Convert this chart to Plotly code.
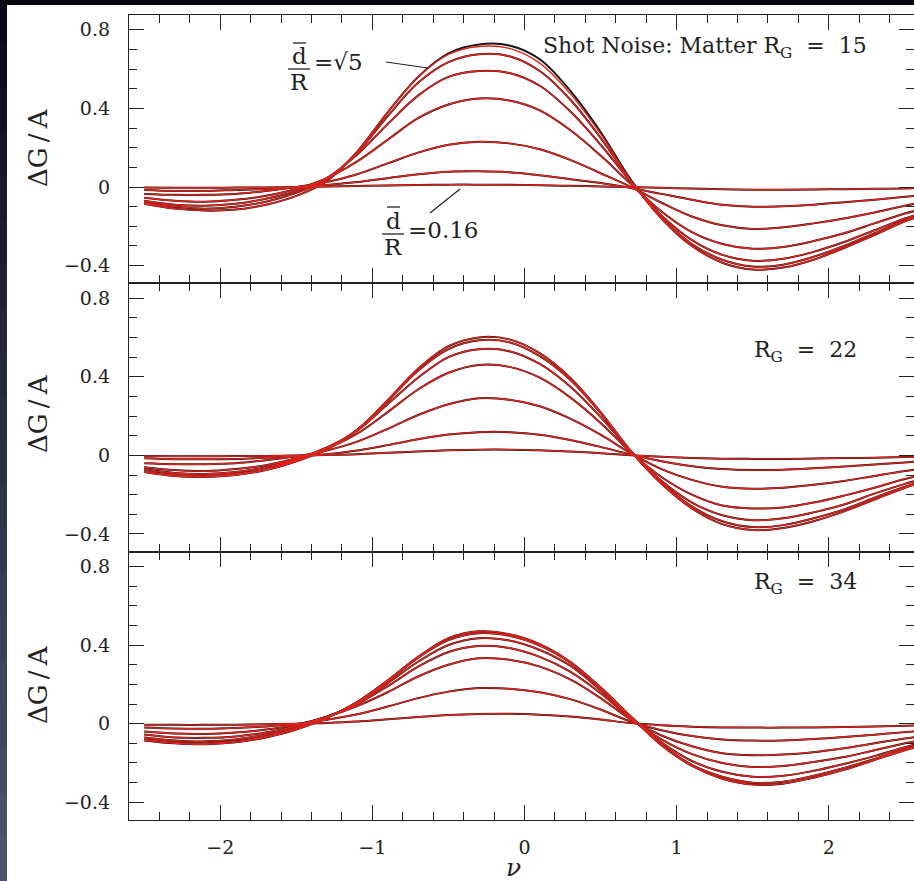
import plotly.graph_objects as go
from plotly.subplots import make_subplots

# ---------------- data ----------------
nu = [-2.5, -2.3, -2.1, -1.9, -1.7, -1.5, -1.3, -1.1, -0.9, -0.7, -0.5, -0.3, -0.1,
      0.1, 0.3, 0.5, 0.7, 0.9, 1.1, 1.3, 1.5, 1.7, 1.9, 2.1, 2.3, 2.5, 2.6]

# Panel 1: R_G = 15 (d/R from sqrt(5) down to 0.16) -- red (measured) curves
p1_c1 = [-0.085, -0.11, -0.12, -0.115, -0.09, -0.045, 0.03, 0.18, 0.38, 0.56, 0.675, 0.715, 0.705,
         0.63, 0.475, 0.27, 0.03, -0.16, -0.30, -0.385, -0.42, -0.41, -0.37, -0.31, -0.245, -0.175, -0.15]
p1_c2 = [-0.08, -0.10, -0.11, -0.10, -0.075, -0.03, 0.04, 0.175, 0.36, 0.53, 0.635, 0.675, 0.665,
         0.59, 0.445, 0.25, 0.03, -0.155, -0.29, -0.37, -0.405, -0.395, -0.355, -0.30, -0.235, -0.17, -0.145]
p1_c3 = [-0.07, -0.09, -0.095, -0.085, -0.06, -0.02, 0.045, 0.165, 0.32, 0.465, 0.56, 0.59, 0.58,
         0.515, 0.385, 0.215, 0.025, -0.145, -0.27, -0.345, -0.375, -0.365, -0.33, -0.28, -0.22, -0.16, -0.135]
p1_c4 = [-0.055, -0.07, -0.075, -0.065, -0.045, -0.01, 0.045, 0.13, 0.24, 0.35, 0.42, 0.45, 0.44,
         0.39, 0.29, 0.16, 0.015, -0.125, -0.23, -0.29, -0.314, -0.305, -0.275, -0.235, -0.185, -0.135, -0.115]
p1_c5 = [-0.035, -0.04, -0.04, -0.035, -0.02, 0.0, 0.025, 0.065, 0.12, 0.175, 0.215, 0.23, 0.222,
         0.192, 0.138, 0.07, 0.0, -0.08, -0.15, -0.195, -0.213, -0.205, -0.185, -0.16, -0.13, -0.095, -0.08]
p1_c6 = [-0.015, -0.02, -0.02, -0.015, -0.01, 0.0, 0.01, 0.025, 0.045, 0.065, 0.078, 0.08, 0.075,
         0.06, 0.04, 0.02, -0.005, -0.035, -0.065, -0.09, -0.10, -0.098, -0.09, -0.078, -0.065, -0.05, -0.042]
p1_c7 = [-0.003, -0.004, -0.004, -0.003, -0.002, 0.0, 0.002, 0.005, 0.008, 0.01, 0.012, 0.012, 0.011,
         0.009, 0.006, 0.003, 0.0, -0.004, -0.008, -0.012, -0.014, -0.014, -0.013, -0.011, -0.009, -0.007, -0.006]
# black (prediction) top curve of panel 1, visibly above the red one near the peak
p1_k1 = [-0.085, -0.11, -0.12, -0.115, -0.09, -0.045, 0.03, 0.18, 0.38, 0.56, 0.68, 0.725, 0.72,
         0.65, 0.49, 0.28, 0.035, -0.16, -0.30, -0.385, -0.42, -0.41, -0.37, -0.31, -0.245, -0.175, -0.15]

# Panel 2: R_G = 22
p2_c1 = [-0.085, -0.105, -0.11, -0.10, -0.075, -0.03, 0.03, 0.13, 0.28, 0.44, 0.555, 0.60, 0.59,
         0.52, 0.395, 0.22, 0.02, -0.145, -0.27, -0.35, -0.38, -0.37, -0.335, -0.285, -0.225, -0.165, -0.14]
p2_c2 = [-0.08, -0.10, -0.105, -0.095, -0.07, -0.025, 0.035, 0.13, 0.275, 0.43, 0.54, 0.585, 0.575,
         0.505, 0.385, 0.215, 0.02, -0.14, -0.26, -0.335, -0.365, -0.355, -0.32, -0.275, -0.215, -0.16, -0.135]
p2_c3 = [-0.07, -0.09, -0.095, -0.085, -0.06, -0.02, 0.04, 0.125, 0.26, 0.395, 0.50, 0.54, 0.53,
         0.465, 0.35, 0.195, 0.02, -0.13, -0.24, -0.305, -0.33, -0.32, -0.29, -0.25, -0.195, -0.145, -0.125]
p2_c4 = [-0.06, -0.075, -0.08, -0.07, -0.05, -0.015, 0.035, 0.11, 0.22, 0.335, 0.42, 0.46, 0.45,
         0.395, 0.295, 0.165, 0.015, -0.11, -0.20, -0.255, -0.27, -0.265, -0.24, -0.205, -0.165, -0.12, -0.105]
p2_c5 = [-0.04, -0.045, -0.045, -0.04, -0.025, -0.005, 0.025, 0.07, 0.135, 0.205, 0.26, 0.29, 0.283,
         0.25, 0.187, 0.105, 0.01, -0.07, -0.125, -0.16, -0.17, -0.165, -0.15, -0.13, -0.105, -0.08, -0.07]
p2_c6 = [-0.015, -0.02, -0.02, -0.018, -0.012, -0.004, 0.006, 0.025, 0.052, 0.082, 0.106, 0.118, 0.118,
         0.105, 0.078, 0.043, 0.004, -0.03, -0.055, -0.07, -0.075, -0.073, -0.066, -0.057, -0.047, -0.036, -0.031]
p2_c7 = [-0.004, -0.005, -0.005, -0.004, -0.003, -0.001, 0.002, 0.006, 0.013, 0.02, 0.026, 0.029, 0.029,
         0.026, 0.019, 0.011, 0.001, -0.007, -0.013, -0.017, -0.018, -0.018, -0.016, -0.014, -0.012, -0.009, -0.008]

# Panel 3: R_G = 34
p3_c1 = [-0.085, -0.10, -0.105, -0.095, -0.07, -0.03, 0.03, 0.11, 0.22, 0.34, 0.435, 0.47, 0.455,
         0.405, 0.315, 0.185, 0.035, -0.11, -0.215, -0.28, -0.31, -0.305, -0.275, -0.235, -0.185, -0.135, -0.115]
p3_c2 = [-0.08, -0.095, -0.10, -0.09, -0.065, -0.025, 0.03, 0.11, 0.215, 0.335, 0.425, 0.46, 0.447,
         0.397, 0.31, 0.18, 0.035, -0.105, -0.21, -0.27, -0.30, -0.295, -0.265, -0.225, -0.18, -0.13, -0.11]
p3_c3 = [-0.07, -0.085, -0.09, -0.08, -0.055, -0.02, 0.035, 0.105, 0.205, 0.315, 0.40, 0.435, 0.423,
         0.375, 0.295, 0.17, 0.03, -0.095, -0.19, -0.245, -0.27, -0.265, -0.24, -0.205, -0.165, -0.12, -0.10]
p3_c4 = [-0.055, -0.07, -0.072, -0.065, -0.045, -0.012, 0.035, 0.10, 0.19, 0.29, 0.365, 0.395, 0.385,
         0.34, 0.265, 0.155, 0.025, -0.08, -0.155, -0.20, -0.22, -0.215, -0.195, -0.17, -0.135, -0.10, -0.085]
p3_c5 = [-0.04, -0.05, -0.052, -0.045, -0.03, -0.005, 0.035, 0.09, 0.16, 0.24, 0.30, 0.333, 0.325,
         0.29, 0.225, 0.13, 0.02, -0.06, -0.115, -0.15, -0.16, -0.157, -0.145, -0.125, -0.10, -0.075, -0.065]
p3_c6 = [-0.02, -0.025, -0.026, -0.022, -0.014, -0.002, 0.02, 0.048, 0.087, 0.13, 0.163, 0.181, 0.178,
         0.16, 0.125, 0.072, 0.01, -0.033, -0.063, -0.08, -0.086, -0.085, -0.078, -0.068, -0.056, -0.043, -0.037]
p3_c7 = [-0.005, -0.006, -0.006, -0.005, -0.003, 0.0, 0.004, 0.011, 0.022, 0.034, 0.044, 0.049, 0.05,
         0.046, 0.036, 0.021, 0.003, -0.008, -0.015, -0.019, -0.02, -0.02, -0.019, -0.017, -0.014, -0.011, -0.009]

red_panels = [
    [p1_c1, p1_c2, p1_c3, p1_c4, p1_c5, p1_c6, p1_c7],
    [p2_c1, p2_c2, p2_c3, p2_c4, p2_c5, p2_c6, p2_c7],
    [p3_c1, p3_c2, p3_c3, p3_c4, p3_c5, p3_c6, p3_c7],
]
black_panels = [
    [p1_k1, p1_c2, p1_c3, p1_c4, p1_c5, p1_c6, p1_c7],
    [p2_c1, p2_c2, p2_c3, p2_c4, p2_c5, p2_c6, p2_c7],
    [p3_c1, p3_c2, p3_c3, p3_c4, p3_c5, p3_c6, p3_c7],
]
NB = "\u00a0"
panel_labels = ["Shot Noise: Matter R<sub>G</sub>" + NB * 2 + "=" + NB * 2 + "15",
                "R<sub>G</sub>" + NB * 2 + "=" + NB * 2 + "22",
                "R<sub>G</sub>" + NB * 2 + "=" + NB * 2 + "34"]
x_ticks = [-2, -1, 0, 1, 2]
x_ticktext = ["\u22122", "\u22121", "0", "1", "2"]
y_ticks = [-0.4, 0, 0.4, 0.8]
y_ticktext = ["\u22120.4", "0", "0.4", "0.8"]

# ---------------- layout geometry ----------------
W, H = 914, 881
L, R, T, B = 129, 0, 15, 61
PW, PH = W - L - R, H - T - B


def px(xp):
    return (xp - L) / PW


def py(yp):
    return (H - B - yp) / PH


FONT = "DejaVu Serif"
INK = "#222222"
RED = "#e3221b"

fig = make_subplots(rows=3, cols=1, shared_xaxes=True, vertical_spacing=0)

for r in range(3):
    for c in black_panels[r]:
        fig.add_trace(go.Scatter(x=nu, y=c, mode="lines", line=dict(color="#151515", width=2.0, shape="spline"),
                                 hoverinfo="skip", showlegend=False), row=r + 1, col=1)
    for c in red_panels[r]:
        fig.add_trace(go.Scatter(x=nu, y=c, mode="lines", line=dict(color=RED, width=1.4, shape="spline"),
                                 hoverinfo="skip", showlegend=False), row=r + 1, col=1)

for r in range(1, 4):
    fig.update_xaxes(range=[-2.6, 2.56], showline=True, linecolor=INK, linewidth=1.3, mirror="allticks",
                     ticks="inside", ticklen=15, tickwidth=1.2, tickcolor=INK,
                     tickvals=x_ticks, ticktext=x_ticktext, showgrid=False, zeroline=False,
                     minor=dict(dtick=0.2, tick0=0, ticks="inside", ticklen=8, tickwidth=1.2, tickcolor=INK, showgrid=False),
                     tickfont=dict(family=FONT, size=19, color=INK), ticklabelstandoff=10,
                     showticklabels=(r == 3), row=r, col=1)
    fig.update_yaxes(range=[-0.49, 0.875], showline=True, linecolor=INK, linewidth=1.3, mirror="allticks",
                     ticks="inside", ticklen=15, tickwidth=1.2, tickcolor=INK,
                     tickvals=y_ticks, ticktext=y_ticktext, showgrid=False, zeroline=False,
                     minor=dict(dtick=0.1, tick0=0, ticks="inside", ticklen=8, tickwidth=1.2, tickcolor=INK, showgrid=False),
                     tickfont=dict(family=FONT, size=19, color=INK), ticklabelstandoff=14,
                     row=r, col=1)

ann = []
# panel labels
ann.append(dict(x=px(541), y=py(47), text=panel_labels[0]))
ann.append(dict(x=px(752), y=py(352), text=panel_labels[1]))
ann.append(dict(x=px(752), y=py(583), text=panel_labels[2]))
for a in ann:
    a.update(xref="paper", yref="paper", xanchor="left", yanchor="middle", showarrow=False,
             font=dict(family=FONT, size=22, color=INK))

# y axis titles
for yc in [148, 414, 685]:
    ann.append(dict(x=px(38), y=py(yc), xref="paper", yref="paper", text="\u0394G\u2009/\u2009A", textangle=-90,
                    showarrow=False, xanchor="center", yanchor="middle",
                    font=dict(family=FONT, size=26, color=INK)))
# x axis title
ann.append(dict(x=px(513), y=py(867), xref="paper", yref="paper", text="<i>\u03bd</i>", showarrow=False,
                xanchor="center", yanchor="middle", font=dict(family=FONT, size=25, color=INK)))


# d/R labels
def frac_label(cx, cy_d, cy_r, rest_x, rest_y, rest):
    out = [
        dict(x=px(cx), y=py(cy_d), text="d"),
        dict(x=px(cx), y=py(cy_r), text="R"),
        dict(x=px(rest_x), y=py(rest_y), text=rest, xanchor="left"),
    ]
    for o in out:
        o.setdefault("xanchor", "center")
        o.update(xref="paper", yref="paper", yanchor="middle", showarrow=False,
                 font=dict(family=FONT, size=23, color=INK))
    return out


ann += frac_label(299, 56, 82, 312, 62, "=\u221a5")
ann += frac_label(393, 221, 247, 406, 230, "=0.16")

fig.update_layout(annotations=ann)

shapes = []
# fraction bars and overlines
for (x0, x1, y) in [(288, 310, 69), (293, 306, 43), (382, 404, 234), (387, 400, 207)]:
    shapes.append(dict(type="line", xref="paper", yref="paper", x0=px(x0), x1=px(x1), y0=py(y), y1=py(y),
                       line=dict(color=INK, width=1.3)))
# pointer lines
for (x0, y0, x1, y1) in [(386, 62, 428, 68), (430, 213, 460, 189)]:
    shapes.append(dict(type="line", xref="paper", yref="paper", x0=px(x0), y0=py(y0), x1=px(x1), y1=py(y1),
                       line=dict(color=INK, width=1.2)))
# dark frame: top strip and left gradient strip
shapes.append(dict(type="rect", xref="paper", yref="paper", x0=px(0), x1=px(W), y0=py(0), y1=py(5),
                   fillcolor="#07070f", line=dict(width=0), layer="above"))
nb = 20
top_c = (10, 10, 26)
bot_c = (78, 82, 110)
for i in range(nb):
    t = i / (nb - 1)
    col = "rgb(%d,%d,%d)" % tuple(int(top_c[k] + (bot_c[k] - top_c[k]) * t) for k in range(3))
    y0p = H * i / nb
    y1p = H * (i + 1) / nb + 1
    shapes.append(dict(type="rect", xref="paper", yref="paper", x0=px(0), x1=px(7), y0=py(y0p), y1=py(y1p),
                       fillcolor=col, line=dict(width=0), layer="above"))

fig.update_layout(shapes=shapes, width=W, height=H, margin=dict(l=L, r=R, t=T, b=B, pad=0),
                  paper_bgcolor="white", plot_bgcolor="white")

fig.write_html("out.html")
